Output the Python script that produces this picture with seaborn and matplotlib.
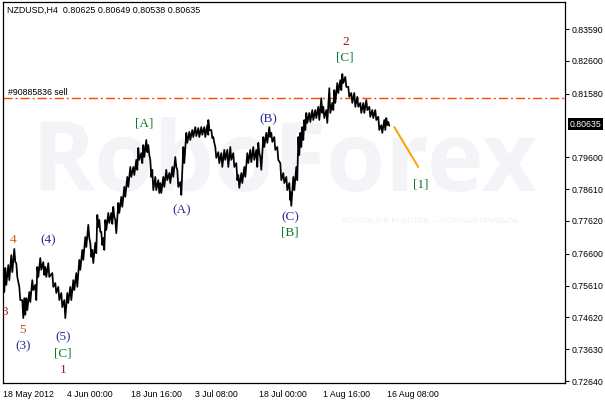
import pandas as pd
import matplotlib
matplotlib.use('Agg')
import matplotlib.pyplot as plt
import matplotlib.transforms as mtransforms
import seaborn as sns

# 数据：H4柱序号及其最高/最低价
bars = [0, 2, 5, 8, 11, 13, 16, 19, 21, 23, 26, 29, 32, 34, 37, 40, 42, 45, 49, 52,
        55, 58, 61, 64, 67, 70, 73, 76, 79, 82, 85, 87, 89, 92, 94, 96, 98, 100, 102, 105,
        108, 110, 112, 115, 118, 121, 124, 127, 130, 133, 135, 138, 140, 143, 145, 147, 149, 152, 155, 157,
        160, 163, 166, 169, 172, 174, 177, 180, 183, 186, 189, 192, 195, 198, 201, 204, 205, 208, 210, 212,
        215, 218, 221, 224, 227, 230, 233, 235, 238, 241, 244, 247, 250, 253, 255, 257, 260, 263, 266, 268,
        271, 274, 277, 280, 283, 286, 287, 290, 293, 295, 297, 299, 301, 303, 306, 309, 312, 315, 318, 320,
        323, 326, 329, 331, 334, 337, 339, 342, 345, 348, 351, 354, 357, 360, 363, 366, 369, 372, 375, 378,
        381, 383, 385]
highs = [0.7603, 0.7616, 0.7625, 0.7656, 0.7675, 0.7631, 0.7557, 0.7516, 0.7522, 0.7522, 0.7541, 0.7578, 0.7563, 0.7619, 0.7647, 0.7634, 0.7619, 0.7631, 0.7600, 0.7569,
         0.7557, 0.7538, 0.7516, 0.7538, 0.7557, 0.7578, 0.7600, 0.7641, 0.7672, 0.7712, 0.7750, 0.7694, 0.7672, 0.7694, 0.7781, 0.7765, 0.7728, 0.7709, 0.7765, 0.7787,
         0.7787, 0.7806, 0.7765, 0.7818, 0.7837, 0.7868, 0.7899, 0.7930, 0.7930, 0.7952, 0.7989, 0.7973, 0.7998, 0.8014, 0.7998, 0.7952, 0.7921, 0.7899, 0.7889, 0.7880,
         0.7899, 0.7921, 0.7911, 0.7930, 0.7961, 0.7921, 0.7883, 0.7992, 0.8036, 0.8039, 0.8045, 0.8054, 0.8051, 0.8054, 0.8054, 0.8060, 0.8076, 0.8045, 0.8023, 0.7992,
         0.7976, 0.7973, 0.7983, 0.7983, 0.7992, 0.7973, 0.7942, 0.7905, 0.7911, 0.7930, 0.7973, 0.7983, 0.7992, 0.7983, 0.8005, 0.7961, 0.8023, 0.8036, 0.8054, 0.8036,
         0.8023, 0.7992, 0.7942, 0.7911, 0.7899, 0.7880, 0.7852, 0.7899, 0.7930, 0.8023, 0.8036, 0.8054, 0.8076, 0.8098, 0.8098, 0.8107, 0.8107, 0.8117, 0.8144, 0.8117,
         0.8107, 0.8175, 0.8129, 0.8169, 0.8191, 0.8200, 0.8219, 0.8210, 0.8179, 0.8160, 0.8160, 0.8148, 0.8129, 0.8129, 0.8138, 0.8117, 0.8107, 0.8107, 0.8086, 0.8060,
         0.8076, 0.8082, 0.8070]
lows = [0.7541, 0.7563, 0.7578, 0.7603, 0.7634, 0.7588, 0.7516, 0.7460, 0.7470, 0.7485, 0.7510, 0.7547, 0.7516, 0.7588, 0.7610, 0.7594, 0.7588, 0.7588, 0.7557, 0.7538,
        0.7516, 0.7494, 0.7460, 0.7507, 0.7516, 0.7547, 0.7557, 0.7610, 0.7641, 0.7681, 0.7709, 0.7650, 0.7631, 0.7662, 0.7743, 0.7728, 0.7687, 0.7672, 0.7734, 0.7756,
        0.7753, 0.7775, 0.7724, 0.7787, 0.7806, 0.7837, 0.7868, 0.7899, 0.7905, 0.7921, 0.7952, 0.7942, 0.7961, 0.7976, 0.7967, 0.7899, 0.7858, 0.7858, 0.7849, 0.7849,
        0.7868, 0.7889, 0.7880, 0.7899, 0.7930, 0.7868, 0.7843, 0.7942, 0.8005, 0.8014, 0.8023, 0.8026, 0.8023, 0.8030, 0.8023, 0.8030, 0.8045, 0.8020, 0.8005, 0.7958,
        0.7942, 0.7930, 0.7952, 0.7930, 0.7952, 0.7930, 0.7889, 0.7865, 0.7880, 0.7899, 0.7942, 0.7945, 0.7952, 0.7930, 0.7973, 0.7921, 0.7992, 0.8005, 0.8023, 0.8008,
        0.7983, 0.7952, 0.7889, 0.7880, 0.7858, 0.7827, 0.7809, 0.7858, 0.7889, 0.7967, 0.7992, 0.8014, 0.8045, 0.8067, 0.8070, 0.8076, 0.8082, 0.8076, 0.8098, 0.8082,
        0.8067, 0.8098, 0.8107, 0.8129, 0.8160, 0.8169, 0.8191, 0.8179, 0.8148, 0.8129, 0.8117, 0.8117, 0.8098, 0.8098, 0.8107, 0.8086, 0.8082, 0.8076, 0.8045, 0.8036,
        0.8045, 0.8060, 0.8058]
assert len(bars) == len(highs) == len(lows)

# 坐标轴标签
xtick_bars = [0, 64, 128, 192, 256, 320, 384]
xtick_labels = ['18 May 2012', '4 Jun 00:00', '18 Jun 16:00', '3 Jul 08:00',
                '18 Jul 00:00', '1 Aug 16:00', '16 Aug 08:00']
ytick_values = [0.83590, 0.82600, 0.81580, 0.79600, 0.78610, 0.77620,
                0.76600, 0.75610, 0.74620, 0.73630, 0.72640]
last_price = 0.80635
order_price = 0.8143
proj_bars = [391, 415]
proj_prices = [0.8054, 0.7930]

# 波浪标记
wave_text = ['2', '[C]', '[A]', '(B)', '(A)', '(C)', '[B]', '[1]',
             '4', '(4)', '3', '5', '(3)', '(5)', '[C]', '1']
wave_bar = [342, 342, 141, 265, 178, 287, 287, 417,
            10, 45, 1, 19, 20, 60, 60, 60]
wave_price = [0.8319, 0.8269, 0.8064, 0.8079, 0.7796, 0.7774, 0.7725, 0.7874,
              0.7703, 0.7703, 0.7479, 0.7423, 0.7373, 0.7401, 0.7351, 0.7298]
wave_color = ['#8B1A1A', '#0A7A2A', '#0A7A2A', '#2B2B99', '#2B2B99', '#2B2B99', '#0A7A2A', '#0A7A2A',
              '#D0601A', '#2B2B99', '#B22222', '#C8501A', '#2B2B99', '#2B2B99', '#0A7A2A', '#8B1C4C']

sns.set_style('white')
plt.rcParams['font.family'] = ['Liberation Sans', 'DejaVu Sans']

# 构造锯齿线，模拟每根柱的高低点
zx, zy = [], []
for b, h, l in zip(bars, highs, lows):
    zx += [b, b + 1]
    zy += [h, l]
df = pd.DataFrame({'bar': zx, 'price': zy})

fig = plt.figure(figsize=(6.05, 4.01), dpi=100)
ax = fig.add_axes([3 / 605, 1 - 383 / 401, 562 / 605, 381 / 401])

# 水印
ax.text(0.50, 0.57, 'RoboForex', transform=ax.transAxes, fontsize=69, fontweight='bold',
        family='Open Sans', color='#F2F4F7', ha='center', va='center', zorder=0)
ax.text(0.76, 0.425, 'ИСПОЛЬЗУЙ РОБОТОВ — ПОЛУЧАЙ ПРИБЫЛЬ', transform=ax.transAxes,
        fontsize=5.5, color='#EBEEF2', ha='center', va='center', zorder=0)

sns.lineplot(data=df, x='bar', y='price', ax=ax, color='black', linewidth=1.25,
             estimator=None, sort=False, zorder=3)
sns.lineplot(x=proj_bars, y=proj_prices, ax=ax, color='#FFA000', linewidth=1.4, zorder=3)

ax.axhline(order_price, color='#FF4500', linewidth=1.0, dashes=(6.5, 2.2, 1.4, 2.2), zorder=2)
ax.text(5, order_price + 0.0018, '#90885836 sell', fontsize=6.3, color='black', va='center')

for t, b, p, c in zip(wave_text, wave_bar, wave_price, wave_color):
    ax.text(b, p, t, color=c, fontsize=9.5, family='Liberation Serif',
            ha='center', va='center', zorder=4, clip_on=True)

ax.text(0.007, 0.977, 'NZDUSD,H4  0.80625 0.80649 0.80538 0.80635', transform=ax.transAxes,
        fontsize=6.4, color='black', va='center', ha='left')

ax.set_xlim(-0.3, 561.7)
ax.set_ylim(0.72581, 0.8443)
ax.set_xlabel('')
ax.set_ylabel('')

ax.set_xticks(xtick_bars)
ax.set_xticklabels(xtick_labels, ha='left')
ax.yaxis.tick_right()
ax.set_yticks(ytick_values)
ax.set_yticklabels(['%.5f' % v for v in ytick_values])
ax.tick_params(axis='both', which='major', direction='out', length=3.2, width=0.8,
               labelsize=6.3, colors='black', pad=1.5)
for s in ax.spines.values():
    s.set_color('black')
    s.set_linewidth(0.9)

trans = mtransforms.blended_transform_factory(ax.transAxes, ax.transData)
ax.text(1.0 + 5 / 562, last_price, '%.5f' % last_price, transform=trans, fontsize=6.3,
        color='white', ha='left', va='center',
        bbox=dict(facecolor='black', edgecolor='none', pad=1.2))

fig.savefig('out.png', dpi=100)
